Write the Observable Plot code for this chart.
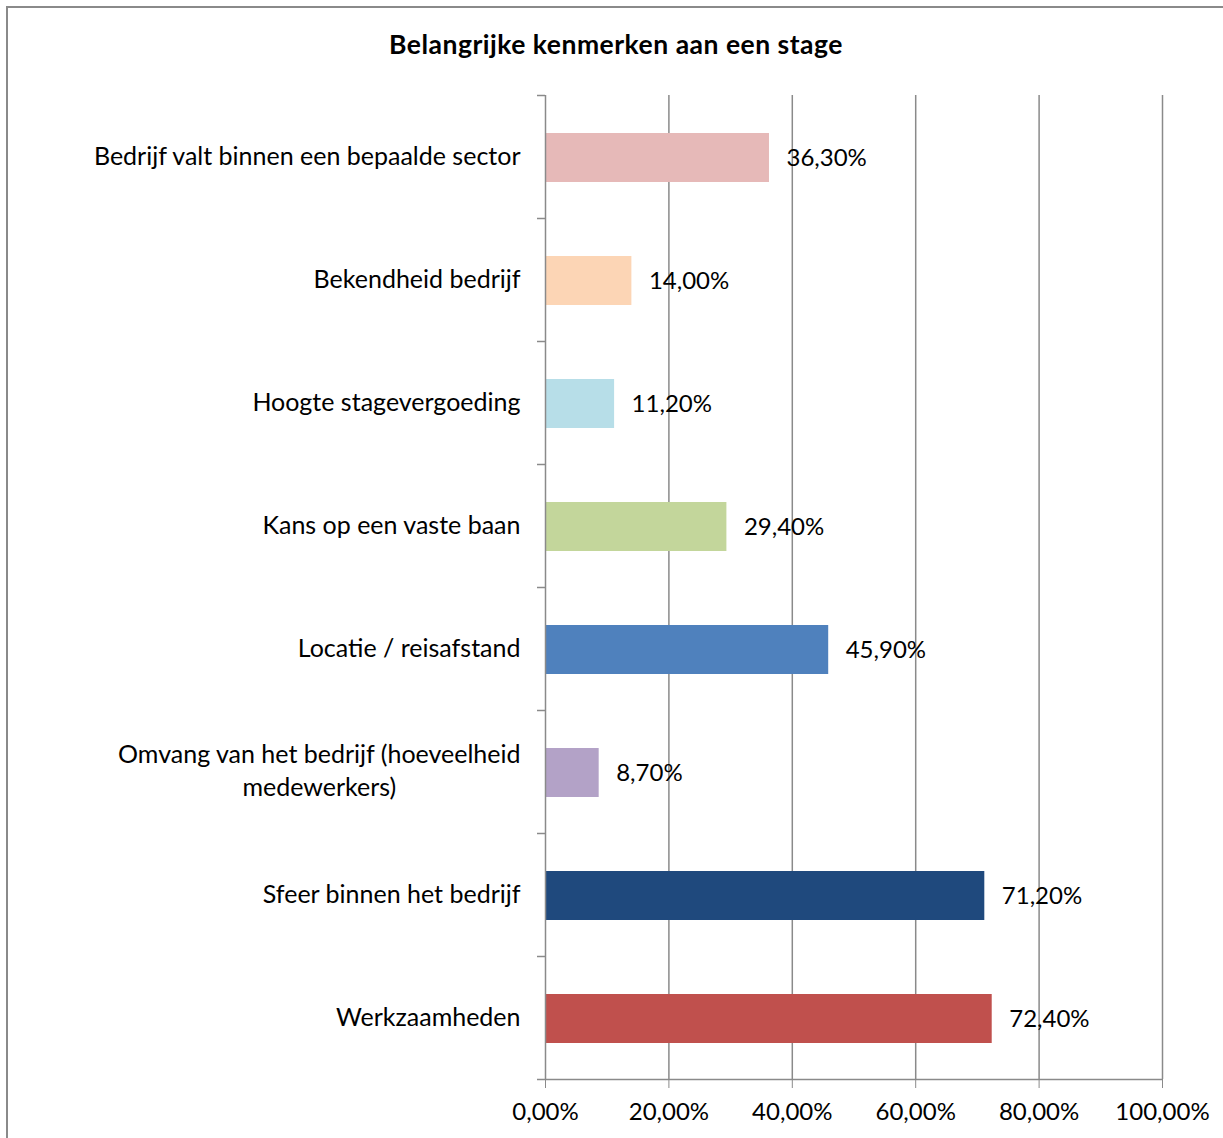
<!DOCTYPE html>
<html>
<head>
<meta charset="utf-8">
<script src="https://cdn.jsdelivr.net/npm/d3@7"></script>
<script src="https://cdn.jsdelivr.net/npm/@observablehq/plot@0.6"></script>
<style>
  html, body { margin: 0; padding: 0; background: #fff; }
  #wrap { position: relative; width: 1223px; height: 1138px; overflow: hidden; font-family: Lato, "Open Sans", sans-serif; background: #fff; }
  #frame { position: absolute; z-index: 2; left: 6px; top: 6px; width: 1400px; height: 1400px; border-left: 2px solid #8a8a8a; border-top: 2px solid #8a8a8a; box-sizing: border-box; pointer-events: none; }
  #title { position: absolute; left: 116px; width: 1000px; top: 28px; text-align: center; font-weight: bold; font-size: 26.5px; letter-spacing: 0.5px; color: #000; }
  #chart { position: absolute; left: 0; top: 90px; }
</style>
</head>
<body>
<div id="wrap">
  <div id="title">Belangrijke kenmerken aan een stage</div>
  <div id="chart"></div>
  <div id="frame"></div>
</div>
<script>
const categories = [
  "Bedrijf valt binnen een bepaalde sector",
  "Bekendheid bedrijf",
  "Hoogte stagevergoeding",
  "Kans op een vaste baan",
  "Locatie / reisafstand",
  "Omvang van het bedrijf (hoeveelheid\nmedewerkers)",
  "Sfeer binnen het bedrijf",
  "Werkzaamheden"
];
const values = [36.3, 14.0, 11.2, 29.4, 45.9, 8.7, 71.2, 72.4];
const colors = ["#E6B9B8", "#FCD5B5", "#B7DEE8", "#C3D69B", "#4F81BD", "#B3A2C7", "#1F497D", "#C0504D"];
const xTicks = [0, 20, 40, 60, 80, 100];

const data = categories.map((c, i) => ({cat: c, value: values[i], color: colors[i]}));
const fmt = v => v.toFixed(2).replace(".", ",") + "%";

const W = 1223, H = 1048;
const mL = 545, mR = 61, mT = 5, mB = 59;
const step = (H - mT - mB) / categories.length;
const tickUnits = 8 / (W - mL - mR) * 100;
const gray = "#8a8a8a";

const plot = Plot.plot({
  width: W, height: H,
  marginLeft: mL, marginRight: mR, marginTop: mT, marginBottom: mB,
  style: {fontFamily: "Lato, 'Open Sans', sans-serif", fontSize: "24px", color: "#000", background: "transparent"},
  x: {domain: [0, 100]},
  y: {domain: categories, paddingInner: 0.6, paddingOuter: 0.3},
  marks: [
    Plot.ruleX(xTicks.slice(1), {stroke: gray, strokeWidth: 1.5}),
    Plot.barX(data, {x: "value", y: "cat", fill: "color", dy: 1}),
    Plot.ruleX([0], {stroke: gray, strokeWidth: 1.5}),
    Plot.ruleY(categories, {y: d => d, dy: -step / 2, x1: -tickUnits, x2: 0, stroke: gray, strokeWidth: 1.5}),
    Plot.ruleY(categories.slice(-1), {y: d => d, dy: step / 2, x1: -tickUnits, x2: 100, stroke: gray, strokeWidth: 1.5}),
    Plot.axisX({ticks: xTicks, tickSize: 9, tickPadding: 14, tickFormat: fmt, stroke: gray, fill: "#000", fontSize: 24, label: null}),
    Plot.axisY({tickSize: 0, tickPadding: 25, dy: -3, fill: "#000", fontSize: 25, lineHeight: 1.32, label: null}),
    Plot.text(data, {x: "value", y: "cat", text: d => fmt(d.value), textAnchor: "start", dx: 17, dy: 1, fontSize: 24, fill: "#000"})
  ]
});
document.getElementById("chart").appendChild(plot);

// center multi-line category labels within their right-aligned block
plot.querySelectorAll("text").forEach(t => {
  const spans = t.querySelectorAll("tspan");
  if (spans.length > 1 && t.getAttribute("text-anchor") !== "start") {
    const bb = t.getBBox();
    const cx = bb.x + bb.width / 2;
    t.setAttribute("text-anchor", "middle");
    spans.forEach(s => s.setAttribute("x", cx));
  }
});
</script>
</body>
</html>
